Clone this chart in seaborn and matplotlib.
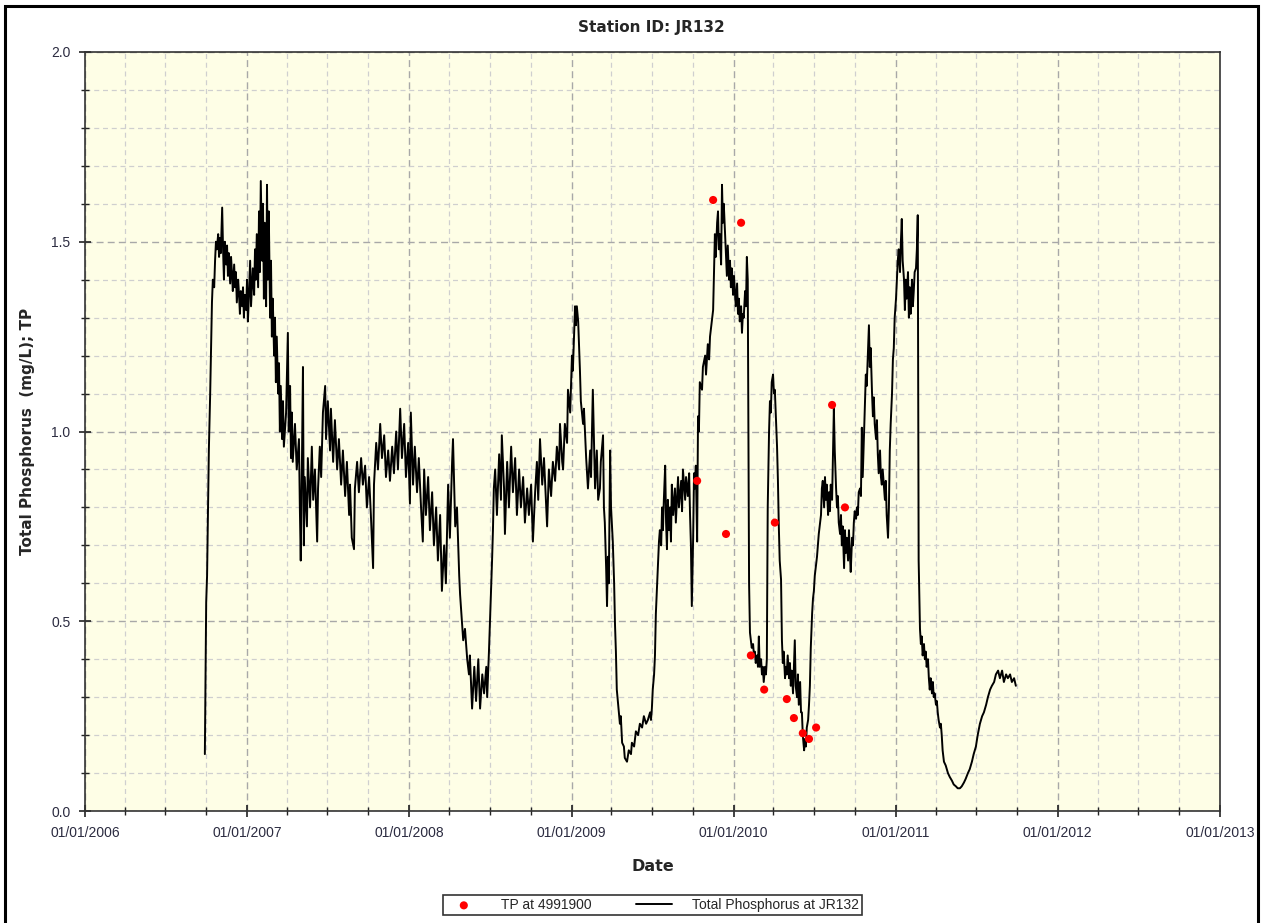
import seaborn as sns
import matplotlib.pyplot as plt
import matplotlib.dates as mdates
from matplotlib.ticker import MultipleLocator, FormatStrFormatter
from matplotlib.patches import Rectangle
import pandas as pd

# days since 01/01/2006 and total phosphorus (mg/L) at JR132
line_days = [
    270, 273, 275, 277, 279, 282, 284, 286, 288, 291, 293, 295, 297, 300, 302, 304, 306, 309, 311, 313,
    315, 318, 320, 322, 324, 327, 329, 331, 333, 336, 338, 340, 342, 345, 347, 349, 351, 354, 356, 358,
    360, 363, 365, 367, 369, 372, 374, 376, 378, 381, 383, 385, 387, 390, 392, 394, 396, 399, 401, 403,
    405, 408, 410, 412, 414, 417, 419, 421, 423, 426, 428, 430, 432, 435, 437, 439, 441, 444, 446, 448,
    453, 457, 459, 462, 464, 466, 468, 473, 477, 482, 484, 486, 489, 491, 493, 495, 500, 502, 507, 511,
    514, 518, 523, 525, 529, 532, 536, 541, 543, 547, 552, 554, 559, 563, 568, 572, 577, 581, 586, 590,
    595, 597, 601, 606, 608, 613, 617, 622, 626, 631, 635, 640, 644, 649, 651, 656, 660, 665, 669, 674,
    678, 683, 687, 692, 696, 701, 705, 710, 714, 719, 723, 728, 732, 734, 739, 743, 748, 752, 757, 761,
    764, 768, 773, 777, 782, 786, 791, 795, 800, 804, 809, 813, 818, 822, 827, 829, 834, 838, 843, 845,
    849, 852, 856, 861, 865, 867, 872, 877, 881, 886, 890, 895, 899, 904, 906, 910, 913, 917, 919, 921,
    924, 928, 933, 937, 939, 944, 946, 951, 955, 960, 964, 969, 973, 978, 982, 987, 991, 996, 1000, 1005,
    1009, 1014, 1018, 1021, 1025, 1030, 1034, 1039, 1041, 1045, 1050, 1054, 1059, 1063, 1068, 1070, 1075, 1077, 1081, 1086,
    1088, 1093, 1097, 1099, 1104, 1106, 1108, 1111, 1115, 1117, 1122, 1124, 1129, 1133, 1138, 1140, 1144, 1149, 1153, 1156,
    1160, 1162, 1167, 1169, 1171, 1174, 1176, 1178, 1180, 1183, 1185, 1189, 1192, 1194, 1196, 1198, 1201, 1205, 1207, 1210,
    1214, 1216, 1221, 1225, 1230, 1232, 1237, 1241, 1246, 1250, 1255, 1259, 1264, 1268, 1273, 1275, 1277, 1279, 1282, 1284,
    1286, 1289, 1291, 1293, 1295, 1298, 1300, 1302, 1304, 1307, 1309, 1311, 1313, 1316, 1318, 1320, 1322, 1325, 1329, 1331,
    1336, 1338, 1343, 1345, 1347, 1352, 1354, 1358, 1361, 1363, 1365, 1367, 1370, 1372, 1374, 1376, 1379, 1381, 1383, 1385,
    1390, 1392, 1397, 1399, 1403, 1406, 1408, 1412, 1415, 1417, 1419, 1421, 1424, 1426, 1428, 1430, 1433, 1435, 1437, 1439,
    1442, 1444, 1446, 1448, 1451, 1453, 1455, 1457, 1460, 1462, 1464, 1466, 1469, 1471, 1473, 1475, 1478, 1480, 1482, 1484,
    1487, 1489, 1491, 1493, 1496, 1498, 1500, 1502, 1505, 1507, 1509, 1511, 1514, 1516, 1518, 1520, 1523, 1525, 1527, 1529,
    1532, 1534, 1536, 1538, 1541, 1543, 1545, 1547, 1550, 1552, 1554, 1556, 1559, 1561, 1563, 1565, 1568, 1570, 1572, 1574,
    1577, 1579, 1581, 1583, 1586, 1588, 1590, 1592, 1595, 1599, 1601, 1604, 1606, 1608, 1611, 1613, 1615, 1617, 1620, 1622,
    1624, 1626, 1629, 1631, 1633, 1635, 1638, 1640, 1642, 1644, 1647, 1649, 1651, 1653, 1656, 1658, 1660, 1662, 1665, 1667,
    1669, 1671, 1674, 1676, 1678, 1680, 1683, 1685, 1687, 1689, 1692, 1694, 1696, 1698, 1701, 1703, 1705, 1707, 1710, 1712,
    1714, 1716, 1719, 1721, 1723, 1725, 1728, 1730, 1732, 1734, 1737, 1739, 1741, 1743, 1746, 1748, 1750, 1752, 1755, 1757,
    1759, 1761, 1764, 1766, 1768, 1770, 1773, 1775, 1777, 1779, 1782, 1784, 1786, 1788, 1791, 1793, 1795, 1797, 1800, 1802,
    1804, 1806, 1809, 1811, 1813, 1815, 1818, 1820, 1822, 1824, 1827, 1829, 1831, 1833, 1836, 1838, 1840, 1842, 1845, 1847,
    1849, 1851, 1854, 1856, 1858, 1860, 1863, 1865, 1867, 1869, 1872, 1874, 1876, 1878, 1881, 1883, 1885, 1887, 1890, 1892,
    1894, 1896, 1899, 1901, 1903, 1905, 1908, 1910, 1912, 1914, 1917, 1919, 1921, 1923, 1926, 1928, 1930, 1932, 1935, 1939,
    1944, 1948, 1953, 1957, 1962, 1966, 1971, 1975, 1980, 1984, 1989, 1993, 1998, 2002, 2007, 2011, 2016, 2021, 2025, 2030,
    2034, 2039, 2043, 2048, 2052, 2057, 2061, 2066, 2070, 2075, 2079, 2084, 2088, 2093, 2097,
]
line_tp = [
    0.15, 0.55, 0.62, 0.78, 0.95, 1.10, 1.22, 1.34, 1.40, 1.38, 1.45, 1.50, 1.48, 1.52, 1.46, 1.51, 1.47, 1.59, 1.48, 1.40,
    1.50, 1.44, 1.49, 1.41, 1.47, 1.39, 1.46, 1.42, 1.37, 1.44, 1.38, 1.42, 1.34, 1.40, 1.36, 1.31, 1.37, 1.33, 1.38, 1.30,
    1.36, 1.32, 1.40, 1.29, 1.35, 1.45, 1.33, 1.38, 1.43, 1.36, 1.48, 1.40, 1.52, 1.38, 1.58, 1.42, 1.66, 1.45, 1.60, 1.35,
    1.55, 1.33, 1.65, 1.40, 1.58, 1.30, 1.45, 1.25, 1.35, 1.20, 1.30, 1.13, 1.25, 1.10, 1.18, 1.00, 1.12, 0.98, 1.08, 0.96,
    1.05, 1.26, 1.00, 1.12, 0.93, 1.05, 0.92, 1.02, 0.90, 0.98, 0.80, 0.66, 0.95, 1.17, 0.70, 0.88, 0.75, 0.93, 0.80, 0.96,
    0.82, 0.90, 0.71, 0.85, 0.96, 0.88, 1.05, 1.12, 0.98, 1.08, 0.95, 1.06, 0.92, 1.03, 0.90, 0.98, 0.86, 0.95, 0.83, 0.92,
    0.78, 0.86, 0.72, 0.69, 0.85, 0.92, 0.84, 0.93, 0.86, 0.91, 0.80, 0.88, 0.78, 0.64, 0.86, 0.97, 0.90, 1.02, 0.93, 0.99,
    0.88, 0.95, 0.87, 0.96, 0.89, 1.00, 0.90, 1.06, 0.93, 1.02, 0.88, 0.97, 0.81, 1.05, 0.86, 0.96, 0.84, 0.93, 0.80, 0.71,
    0.90, 0.78, 0.88, 0.74, 0.84, 0.70, 0.80, 0.66, 0.78, 0.58, 0.70, 0.60, 0.86, 0.72, 0.92, 0.98, 0.75, 0.80, 0.62, 0.57,
    0.50, 0.45, 0.48, 0.40, 0.36, 0.41, 0.27, 0.38, 0.29, 0.40, 0.27, 0.36, 0.31, 0.38, 0.30, 0.42, 0.52, 0.66, 0.74, 0.85,
    0.90, 0.78, 0.94, 0.82, 0.99, 0.85, 0.73, 0.92, 0.80, 0.96, 0.84, 0.93, 0.78, 0.90, 0.80, 0.88, 0.76, 0.85, 0.78, 0.86,
    0.71, 0.84, 0.92, 0.82, 0.98, 0.86, 0.93, 0.80, 0.75, 0.90, 0.83, 0.92, 0.87, 0.96, 0.90, 1.02, 0.92, 0.90, 1.02, 0.97,
    1.11, 1.05, 1.20, 1.16, 1.33, 1.28, 1.33, 1.29, 1.16, 1.08, 1.02, 1.06, 0.93, 0.85, 0.95, 0.88, 1.11, 0.85, 0.95, 0.82,
    0.85, 0.92, 0.99, 0.80, 0.76, 0.64, 0.54, 0.67, 0.60, 0.95, 0.80, 0.71, 0.60, 0.49, 0.42, 0.32, 0.28, 0.23, 0.25, 0.18,
    0.17, 0.14, 0.13, 0.16, 0.15, 0.18, 0.17, 0.21, 0.20, 0.23, 0.22, 0.25, 0.23, 0.24, 0.26, 0.24, 0.27, 0.32, 0.36, 0.41,
    0.52, 0.60, 0.66, 0.71, 0.74, 0.70, 0.80, 0.74, 0.82, 0.91, 0.76, 0.69, 0.82, 0.74, 0.80, 0.71, 0.86, 0.78, 0.85, 0.76,
    0.88, 0.80, 0.87, 0.79, 0.90, 0.82, 0.88, 0.83, 0.89, 0.78, 0.70, 0.54, 0.72, 0.89, 0.85, 0.91, 0.71, 1.04, 1.00, 1.13,
    1.11, 1.17, 1.20, 1.15, 1.23, 1.19, 1.25, 1.29, 1.32, 1.42, 1.52, 1.46, 1.55, 1.58, 1.48, 1.52, 1.44, 1.65, 1.55, 1.60,
    1.52, 1.47, 1.41, 1.49, 1.40, 1.45, 1.38, 1.43, 1.36, 1.41, 1.37, 1.33, 1.39, 1.31, 1.35, 1.29, 1.33, 1.26, 1.31, 1.30,
    1.37, 1.33, 1.46, 1.40, 0.60, 0.47, 0.45, 0.43, 0.44, 0.41, 0.42, 0.39, 0.41, 0.38, 0.46, 0.38, 0.40, 0.36, 0.38, 0.34,
    0.38, 0.36, 0.40, 0.80, 1.00, 1.08, 1.05, 1.13, 1.15, 1.10, 1.11, 1.05, 0.96, 0.87, 0.75, 0.66, 0.61, 0.45, 0.39, 0.42,
    0.35, 0.38, 0.36, 0.41, 0.35, 0.39, 0.33, 0.37, 0.31, 0.45, 0.33, 0.30, 0.36, 0.28, 0.34, 0.26, 0.26, 0.20, 0.16, 0.19,
    0.17, 0.22, 0.24, 0.28, 0.33, 0.43, 0.52, 0.56, 0.58, 0.62, 0.65, 0.67, 0.70, 0.73, 0.76, 0.78, 0.85, 0.87, 0.80, 0.88,
    0.82, 0.86, 0.78, 0.84, 0.79, 0.86, 0.82, 0.94, 1.06, 0.95, 0.85, 0.80, 0.83, 0.76, 0.73, 0.78, 0.70, 0.75, 0.64, 0.74,
    0.68, 0.72, 0.66, 0.74, 0.68, 0.63, 0.72, 0.70, 0.76, 0.79, 0.77, 0.80, 0.78, 0.84, 0.85, 0.83, 1.01, 0.88, 1.00, 1.08,
    1.15, 1.12, 1.22, 1.28, 1.17, 1.22, 1.10, 1.04, 1.09, 1.02, 0.98, 1.03, 0.94, 0.89, 0.95, 0.88, 0.86, 0.90, 0.85, 0.82,
    0.87, 0.78, 0.72, 0.80, 0.95, 1.02, 1.10, 1.19, 1.22, 1.30, 1.35, 1.40, 1.45, 1.48, 1.42, 1.50, 1.56, 1.45, 1.40, 1.32,
    1.40, 1.35, 1.42, 1.30, 1.38, 1.31, 1.40, 1.33, 1.37, 1.42, 1.43, 1.48, 1.57, 0.66, 0.48, 0.44, 0.46, 0.41, 0.44, 0.40,
    0.42, 0.38, 0.40, 0.35, 0.32, 0.35, 0.31, 0.34, 0.30, 0.31, 0.28, 0.29, 0.26, 0.24, 0.22, 0.23, 0.20, 0.16, 0.13, 0.12,
    0.10, 0.09, 0.08, 0.07, 0.065, 0.06, 0.06, 0.065, 0.075, 0.085, 0.10, 0.11, 0.13, 0.15, 0.17, 0.20, 0.23, 0.25, 0.26, 0.28,
    0.30, 0.32, 0.33, 0.34, 0.36, 0.37, 0.35, 0.37, 0.34, 0.36, 0.35, 0.36, 0.34, 0.35, 0.33,
]

# grab samples, TP at 4991900
sample_days = [1379, 1415, 1444, 1478, 1500, 1530, 1554, 1581, 1597, 1617, 1631, 1647, 1683, 1712]
sample_tp = [0.87, 1.61, 0.73, 1.55, 0.41, 0.32, 0.76, 0.295, 0.245, 0.205, 0.19, 0.22, 1.07, 0.80]

origin = pd.Timestamp('2006-01-01')
line_df = pd.DataFrame({'date': origin + pd.to_timedelta(line_days, unit='D'), 'tp': line_tp})
pts_df = pd.DataFrame({'date': origin + pd.to_timedelta(sample_days, unit='D'), 'tp': sample_tp})

sns.set_theme(style='ticks')
plt.rcParams['font.family'] = ['DejaVu Sans']

fig = plt.figure(figsize=(12.63, 9.23), dpi=100)
fig.patch.set_facecolor('white')
ax = fig.add_axes([0.0673, 0.1213, 0.8987, 0.8224])
ax.set_facecolor('#fefee6')

sns.scatterplot(data=pts_df, x='date', y='tp', color='#ff0000', s=34, edgecolor='none',
                ax=ax, zorder=4, label='TP at 4991900')
sns.lineplot(data=line_df, x='date', y='tp', color='black', linewidth=1.4, estimator=None,
             sort=False, ax=ax, zorder=3, label='Total Phosphorus at JR132')

ax.set_xlim(pd.Timestamp('2006-01-01'), pd.Timestamp('2013-01-01'))
ax.set_ylim(0, 2.0)
ax.xaxis.set_major_locator(mdates.YearLocator())
ax.xaxis.set_minor_locator(mdates.MonthLocator(bymonth=[4, 7, 10]))
ax.xaxis.set_major_formatter(mdates.DateFormatter('%m/%d/%Y'))
ax.yaxis.set_major_locator(MultipleLocator(0.5))
ax.yaxis.set_minor_locator(MultipleLocator(0.1))
ax.yaxis.set_major_formatter(FormatStrFormatter('%.1f'))

ax.grid(which='major', axis='both', color='#a8a8a8', linestyle=(0, (5, 3)), linewidth=1.0, zorder=0)
ax.grid(which='minor', axis='both', color='#cfcfcf', linestyle=(0, (4, 3)), linewidth=0.9, zorder=0)
ax.set_axisbelow(True)

ax.tick_params(which='major', direction='inout', length=9, width=1.2, color='#222222',
               labelsize=10, labelcolor='#2b2b40', pad=6)
ax.tick_params(which='minor', direction='inout', length=6, width=1.0, color='#222222')
for lab in ax.get_xticklabels() + ax.get_yticklabels():
    lab.set_family('Liberation Sans')
for sp in ax.spines.values():
    sp.set_color('#333333')
    sp.set_linewidth(1.2)

ax.set_xlabel('Date', fontsize=11.5, fontweight='bold', labelpad=14)
ax.set_ylabel('Total Phosphorus  (mg/L); TP', fontsize=11, fontweight='bold')
ax.yaxis.set_label_coords(-0.044, 0.5)
fig.text(0.5155, 0.970, 'Station ID: JR132', ha='center', va='center', fontsize=11, fontweight='bold')

ax.get_legend().remove()
handles, labels = ax.get_legend_handles_labels()
leg = fig.legend(handles, labels, loc='center', bbox_to_anchor=(0.5165, 0.0195), ncol=2,
                 frameon=True, fancybox=False, edgecolor='black',
                 prop={'family': 'Liberation Sans', 'size': 10},
                 columnspacing=3.2, handlelength=2.6, borderpad=0.2, handletextpad=1.4)
leg.get_frame().set_linewidth(1.2)

# outer frame around the whole figure
fig.patches.append(Rectangle((0.004, -0.01), 0.992, 1.004, transform=fig.transFigure,
                             fill=False, edgecolor='black', linewidth=2.2))

fig.savefig('out.png', dpi=100)
